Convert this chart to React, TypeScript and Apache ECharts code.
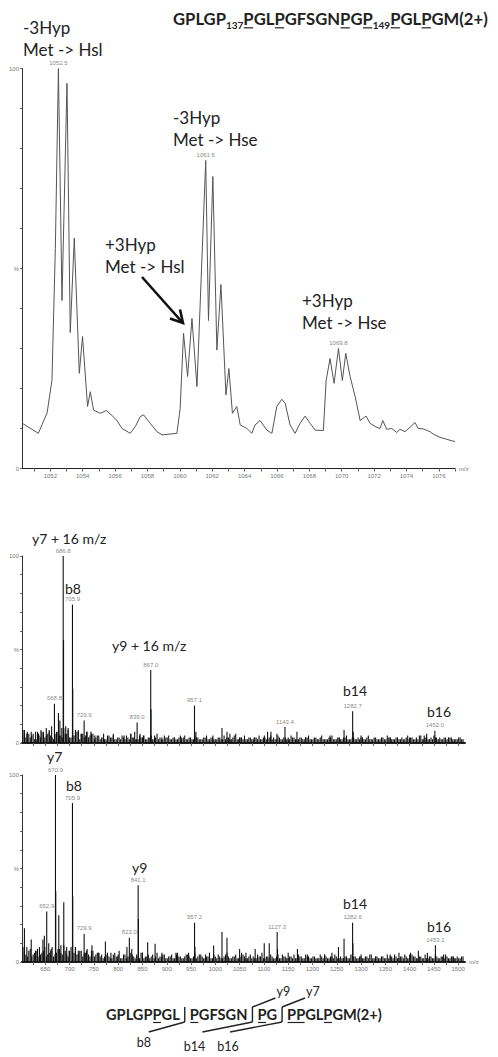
import React, { useEffect, useRef } from "react";
import * as echarts from "echarts";

type Seg = { t: string; sub?: boolean; u?: boolean };

// ---- Survey scan (profile data): [m/z, relative intensity %] ----
const surveyProfile: [number, number][] = [
  [1050.27, 11.3], [1051.26, 8.8], [1051.8, 13.9], [1052.1, 22], [1052.31, 55],
  [1052.5, 100], [1052.72, 42], [1053.03, 96.3], [1053.23, 34], [1053.48, 57.6],
  [1053.79, 23.8], [1053.99, 33], [1054.3, 15.5], [1054.47, 19.2], [1054.67, 14.6],
  [1055.09, 13.8], [1055.46, 14.5], [1055.87, 13], [1056.12, 12], [1056.43, 10],
  [1056.94, 8.8], [1057.25, 10.5], [1057.56, 13], [1057.76, 13.4], [1058.17, 11.3],
  [1058.59, 9.2], [1058.9, 8.4], [1059.82, 8.8], [1060.02, 15], [1060.23, 33.8],
  [1060.48, 23], [1060.75, 37.5], [1061.06, 20.5], [1061.6, 77], [1061.77, 37],
  [1062.04, 73], [1062.29, 29.6], [1062.54, 46], [1062.85, 18.4], [1063.03, 25],
  [1063.25, 13.8], [1063.52, 15.5], [1063.73, 10.9], [1064.14, 10], [1064.45, 8.8],
  [1064.65, 10.9], [1064.96, 12], [1065.38, 9.6], [1065.69, 8.8], [1065.99, 15.5],
  [1066.3, 17.3], [1066.51, 16.3], [1066.81, 10.9], [1067.12, 8.8], [1067.43, 11.3],
  [1067.74, 13.1], [1068.05, 11.3], [1068.36, 9.6], [1068.87, 9.5], [1069.04, 22],
  [1069.28, 27.5], [1069.53, 21.3], [1069.8, 30], [1070.04, 22], [1070.25, 28.8],
  [1070.52, 23], [1070.83, 18], [1071.14, 12], [1071.51, 13.1], [1071.75, 11.3],
  [1072.06, 10.5], [1072.37, 10], [1072.54, 12], [1072.78, 9.8], [1073.09, 10],
  [1073.4, 9], [1073.6, 9.8], [1073.91, 9.2], [1074.22, 10.3], [1074.53, 11.5],
  [1074.73, 10], [1075.04, 9.9], [1075.46, 9.2], [1075.66, 8.6], [1076.07, 7.8],
  [1076.49, 7.3], [1077.0, 6.7],
];
const surveyPeakLabels: [number, number][] = [[1052.5, 100], [1061.6, 77], [1069.8, 30]];
const surveyTickLabels = [1052, 1054, 1056, 1058, 1060, 1062, 1064, 1066, 1068, 1070, 1072, 1074, 1076];

// ---- MS/MS spectra (centroid sticks) ----
const msmsTickLabels = [650, 700, 750, 800, 850, 900, 950, 1000, 1050, 1100, 1150, 1200, 1250, 1300, 1350, 1400, 1450, 1500];
const yTickLabels = [0, 50, 100];

// +16 species
const oxLabeled: [number, number][] = [
  [668.8, 21], [686.8, 100], [705.9, 74], [729.9, 12], [839.0, 11],
  [867.0, 39], [957.1, 20], [1143.4, 8.5], [1282.7, 17], [1452.0, 6.5],
];
const oxPeaks: [number, number][] = [
  [607, 7], [612, 5], [621, 6], [630, 6], [636, 5], [641, 7], [646, 6], [652, 8], [658, 6], [663, 9],
  [677, 16], [680, 12], [684, 8], [687.5, 55], [692, 9], [697, 8], [706.5, 29], [712, 7], [718, 6],
  [724, 5], [735, 6], [744, 6], [752, 4], [770, 5], [790, 4], [812, 4], [826, 5], [834, 6], [845, 5],
  [852, 4], [867.6, 18], [875, 4], [890, 3], [930, 3], [960, 6], [995, 4], [1013.7, 8], [1024, 6],
  [1030, 5], [1050, 3], [1080, 3], [1101, 4], [1107.5, 6], [1114.5, 6], [1126.8, 5], [1150, 3],
  [1168, 6], [1186, 3], [1236, 4], [1255, 3], [1265, 7], [1270, 4], [1284, 6], [1300, 3], [1360, 3],
  [1400, 3], [1430, 4], [1435, 5], [1455, 3], [1480, 3],
];
// baseline grass, sampled every 6 m/z from 604 (A) and from 607 (B)
const oxNoiseA = [
  7, 3, 5, 4, 2, 6, 3, 5, 4, 7, 3, 5, 6, 4, 8, 5, 3, 6, 4, 7, 5, 3, 6, 4, 5, 3, 4,
  3, 2, 4, 3, 5, 2, 3, 4, 2, 3, 5, 3, 2, 4, 3, 2, 3, 4, 2, 5, 3, 2, 3, 4, 2, 3, 2, 4, 3, 2, 3, 2, 4, 3, 2, 3, 4, 2, 3, 2,
  3, 2, 4, 3, 2, 3, 5, 2, 3, 4, 2, 3, 2, 3, 4, 2, 3, 2, 4, 3, 2, 3, 2, 3, 2, 4, 3, 2, 3, 2, 3, 4, 2, 3, 2, 3, 2, 2, 3, 4,
  2, 3, 2, 3, 2, 2, 3, 2, 3, 4, 2, 3, 2, 2, 3, 2, 3, 2, 4, 3, 2, 3, 2, 3, 2, 4, 3, 2, 3, 4, 2, 3, 2, 3, 4, 2, 3, 2, 3, 2,
  3, 2, 2, 3, 2,
];
const oxNoiseB = [
  4, 6, 3, 5, 2, 4, 6, 3, 5, 4, 2, 6, 4, 3, 5, 7, 3, 4, 6, 2, 5, 4, 3, 5, 2, 4,
  2, 3, 2, 4, 3, 2, 3, 2, 3, 4, 2, 3, 2, 2, 3, 4, 2, 3, 2, 3, 2, 2, 4, 3, 2, 3, 2, 3, 2, 4, 2, 3, 2, 3, 2, 2, 3, 2, 3, 2,
  2, 3, 2, 2, 3, 2, 4, 2, 3, 2, 2, 3, 2, 3, 2, 2, 3, 2, 3, 2, 2, 4, 2, 3, 2, 2, 3, 2, 2, 3, 2, 3, 2, 2, 3, 2, 4, 2, 2, 3,
  2, 2, 3, 2, 3, 2, 2, 3, 2, 2, 3, 2, 4, 2, 3, 2, 2, 3, 2, 3, 2, 2, 3, 2, 2, 3, 2, 3, 2, 2, 4, 2, 3, 2, 2, 3, 2, 2, 3, 2,
  3, 2, 2, 3, 2,
];

// unmodified species
const nativeLabeled: [number, number][] = [
  [652.9, 27], [670.9, 100], [705.9, 85], [729.9, 15], [823.0, 13],
  [841.1, 41], [957.2, 21], [1127.3, 16], [1282.6, 21], [1453.1, 9],
];
const nativePeaks: [number, number][] = [
  [607, 18], [612, 8], [621, 12], [630, 6], [638, 8], [645, 12], [648, 14], [657, 10], [662, 7],
  [671.5, 38], [677.7, 25], [682, 9], [688, 32], [694, 8], [699, 6], [706.5, 35], [712, 8], [718, 6],
  [735, 6], [746, 9], [760, 5], [773.7, 11], [785, 5], [800, 4], [818, 8], [828, 7], [841.7, 23],
  [850, 5], [860.7, 10.6], [876, 9.7], [890, 5], [920, 4], [945, 5], [958, 8], [980, 4], [996.5, 8.8],
  [1013.7, 16], [1024, 13], [1050, 7], [1063, 5], [1082, 7], [1100.7, 10], [1111, 10], [1128, 7],
  [1150, 5], [1169, 7], [1190, 4], [1225, 4], [1240, 5], [1253.5, 8], [1265, 12.5], [1283.2, 10],
  [1300, 4], [1330, 3], [1360, 4], [1378, 5], [1400, 4], [1418, 6], [1436.6, 5], [1470, 4], [1490, 3],
];
const nativeNoiseA = [
  8, 4, 6, 3, 5, 7, 4, 6, 3, 5, 8, 4, 7, 5, 9, 4, 6, 5, 8, 4, 6, 5, 7, 3, 6, 4, 5,
  4, 3, 5, 2, 4, 3, 6, 2, 4, 3, 5, 3, 4, 2, 5, 3, 4, 3, 2, 5, 3, 4, 2, 3, 4, 2, 5, 3, 2, 4, 3, 2, 5, 3, 4, 2, 3, 5, 2, 3,
  4, 2, 3, 5, 2, 3, 4, 2, 5, 3, 2, 4, 3, 2, 3, 5, 2, 3, 4, 2, 3, 2, 4, 3, 2, 3, 4, 2, 3, 2, 4, 3, 2, 3, 2, 4, 2, 3, 2, 3,
  4, 2, 3, 2, 3, 2, 4, 3, 2, 3, 2, 3, 4, 2, 3, 2, 3, 2, 4, 3, 2, 3, 2, 3, 4, 2, 5, 3, 2, 3, 2, 4, 2, 3, 2, 3, 2, 3, 4, 2,
  3, 2, 3, 2, 3,
];
const nativeNoiseB = [
  5, 3, 7, 4, 6, 3, 5, 8, 4, 6, 3, 5, 7, 4, 6, 3, 8, 5, 4, 6, 3, 5, 4, 6, 3, 5,
  3, 2, 4, 3, 2, 5, 3, 2, 4, 2, 3, 4, 2, 3, 5, 2, 3, 2, 4, 3, 2, 3, 4, 2, 3, 2, 5, 3, 2, 3, 4, 2, 3, 2, 4, 3, 2, 3, 2, 4,
  2, 3, 2, 4, 3, 2, 3, 2, 3, 4, 2, 3, 2, 2, 4, 3, 2, 3, 2, 3, 2, 4, 2, 3, 2, 3, 2, 2, 4, 3, 2, 3, 2, 3, 2, 2, 3, 4, 2, 3,
  2, 3, 2, 2, 3, 2, 4, 3, 2, 3, 2, 3, 2, 4, 2, 3, 2, 3, 2, 2, 3, 4, 2, 3, 2, 3, 2, 4, 3, 2, 3, 2, 2, 3, 2, 4, 2, 3, 2, 3,
  2, 3, 2, 2, 3,
];
const noiseStartA = 604;
const noiseStartB = 607;
const noiseStep = 6;

// ---- Text ----
const titleSegs: Seg[] = [
  { t: "GPLGP" }, { t: "137", sub: true }, { t: "P", u: true }, { t: "GL" }, { t: "P", u: true },
  { t: "GFSGN" }, { t: "P", u: true }, { t: "G" }, { t: "P", u: true }, { t: "149", sub: true },
  { t: "P", u: true }, { t: "GL" }, { t: "P", u: true }, { t: "GM(2+)" },
];
const seqGroups: Seg[][] = [
  [{ t: "GPLGP" }, { t: "P", u: true }, { t: "GL" }],
  [{ t: "P", u: true }, { t: "GFSGN" }],
  [{ t: "P", u: true }, { t: "G" }],
  [{ t: "PP", u: true }, { t: "GL" }, { t: "P", u: true }, { t: "GM(2+)" }],
];
// dx: horizontal run of the lower leader line, lx: label offset from its end
const seqCuts = [
  { above: "", below: "b8", dx: -36, lx: -5, ly: 22 },
  { above: "y9", below: "b14", dx: -50, lx: -8, ly: 26 },
  { above: "y7", below: "b16", dx: -52, lx: -2, ly: 26 },
];
// [text, left x, middle y, font size]
const annotations: [string, number, number, number][] = [
  ["-3Hyp", 23, 27, 17], ["Met -> Hsl", 23, 49, 17],
  ["-3Hyp", 173, 117, 17], ["Met -> Hse", 173, 139, 17],
  ["+3Hyp", 105, 244, 17], ["Met -> Hsl", 105, 266, 17],
  ["+3Hyp", 302, 300, 17], ["Met -> Hse", 302, 322, 17],
  ["y7 + 16 m/z", 32, 538, 14], ["b8", 65, 588, 14], ["y9 + 16 m/z", 112, 645, 14],
  ["b14", 343, 690, 14], ["b16", 427, 711, 14],
  ["y7", 47, 756, 14], ["b8", 66, 785, 14], ["y9", 132, 867, 14],
  ["b14", 343, 903, 14], ["b16", 427, 926, 14],
];

const FONT = "Lato";
const SMALL_FONT = "Liberation Sans";
const INK = "#222";

let measureCtx: CanvasRenderingContext2D | null = null;
function textWidth(t: string, size: number, weight: string) {
  if (!measureCtx) measureCtx = document.createElement("canvas").getContext("2d");
  if (!measureCtx) return t.length * size * 0.55;
  measureCtx.font = `${weight} ${size}px ${FONT}`;
  return measureCtx.measureText(t).width;
}
function segsWidth(segs: Seg[], size: number, weight: string) {
  return segs.reduce((s, g) => s + textWidth(g.t, g.sub ? size * 0.6 : size, weight), 0);
}
function runElements(segs: Seg[], x0: number, baseline: number, size: number, weight: string) {
  const els: any[] = [];
  let x = x0;
  for (const s of segs) {
    const sz = s.sub ? size * 0.6 : size;
    const w = textWidth(s.t, sz, weight);
    const base = s.sub ? baseline + size * 0.22 : baseline;
    els.push({
      type: "text", x, y: base - sz * 0.35, z: 100,
      style: { text: s.t, fontSize: sz, fontFamily: FONT, fontWeight: weight, fill: INK, align: "left", verticalAlign: "middle" },
    });
    if (s.u) {
      const uy = baseline + size * 0.17;
      els.push({ type: "line", z: 100, shape: { x1: x + 0.5, y1: uy, x2: x + w - 0.5, y2: uy }, style: { stroke: INK, lineWidth: 1.2 } });
    }
    x += w;
  }
  return { els, end: x };
}

function buildGraphics() {
  const g: any[] = [];
  // title, fitted between x = 173 and 488
  const tw = segsWidth(titleSegs, 17, "bold");
  const tSize = (17 * 315) / tw;
  g.push(...runElements(titleSegs, 173, 25, tSize, "bold").els);

  for (const [t, x, y, s] of annotations) {
    g.push({ type: "text", x, y, z: 100, style: { text: t, fontSize: s, fontFamily: FONT, fill: INK, align: "left", verticalAlign: "middle" } });
  }

  // arrow pointing at the +3Hyp / Hsl cluster
  g.push({ type: "line", z: 100, shape: { x1: 142, y1: 277, x2: 182, y2: 322 }, style: { stroke: "#111", lineWidth: 2.6 } });
  g.push({ type: "polyline", z: 100, shape: { points: [[170, 318.5], [183, 323], [180, 309.5]] }, style: { stroke: "#111", lineWidth: 2.6, fill: null } });

  // peptide sequence with cleavage marks
  const gap = 10;
  let allW = 0;
  for (const grp of seqGroups) allW += segsWidth(grp, 16, "bold");
  const sSize = (16 * (276 - gap * (seqGroups.length - 1))) / allW;
  const baseline = 1020;
  let x = 106;
  seqGroups.forEach((grp, i) => {
    const r = runElements(grp, x, baseline, sSize, "bold");
    g.push(...r.els);
    x = r.end;
    if (i < seqCuts.length) {
      const cut = seqCuts[i];
      const bx = x + gap / 2;
      const top = baseline - 13;
      const bot = baseline + 2;
      g.push({ type: "line", z: 100, shape: { x1: bx, y1: top, x2: bx, y2: bot }, style: { stroke: INK, lineWidth: 1.4 } });
      g.push({ type: "line", z: 100, shape: { x1: bx, y1: bot, x2: bx + cut.dx, y2: bot + 10 }, style: { stroke: INK, lineWidth: 1.4 } });
      g.push({ type: "text", x: bx + cut.dx + cut.lx, y: baseline + cut.ly, z: 100, style: { text: cut.below, fontSize: 12.5, fontFamily: FONT, fill: INK, align: "center", verticalAlign: "middle" } });
      if (cut.above) {
        g.push({ type: "line", z: 100, shape: { x1: bx, y1: top, x2: bx + 23, y2: top - 9 }, style: { stroke: INK, lineWidth: 1.4 } });
        g.push({ type: "text", x: bx + 24, y: baseline - 29, z: 100, style: { text: cut.above, fontSize: 12.5, fontFamily: FONT, fill: INK, align: "left", verticalAlign: "middle" } });
      }
      x += gap;
    }
  });
  return g;
}

function stickData(labeled: [number, number][], peaks: [number, number][], noiseA: number[], noiseB: number[]) {
  const a: [number, number][] = noiseA.map((v, i) => [noiseStartA + i * noiseStep, v]);
  const b: [number, number][] = noiseB.map((v, i) => [noiseStartB + i * noiseStep, v]);
  return a.concat(b, peaks, labeled);
}

const stickRender = (_p: any, api: any) => {
  const x = api.value(0);
  const y = api.value(1);
  const p0 = api.coord([x, 0]);
  const p1 = api.coord([x, y]);
  return { type: "line", shape: { x1: p0[0], y1: p0[1], x2: p1[0], y2: p1[1] }, style: { stroke: "#111", lineWidth: 1.1 } };
};

const peakLabel = {
  show: true, position: "top", distance: 2, fontSize: 6, color: "#666", fontFamily: SMALL_FONT,
  formatter: (p: any) => Number(p.value[0]).toFixed(1),
};

export default function App() {
  const ref = useRef<HTMLDivElement>(null);
  useEffect(() => {
    if (!ref.current) return;
    const chart = echarts.init(ref.current, undefined, { renderer: "svg" });

    const surveyMinor: number[] = [];
    for (let v = 1051; v <= 1077; v++) surveyMinor.push(v);
    const msmsMinor: number[] = [];
    for (let v = 625; v <= 1500; v += 25) msmsMinor.push(v);
    const yMinor: number[] = [];
    for (let v = 0; v <= 100; v += 10) yMinor.push(v);

    const tickLabelStyle = { fontSize: 6, color: "#777", fontFamily: SMALL_FONT };

    const xAxisFor = (grid: number, min: number, max: number, minor: number[], labels: number[] | null, lineWidth: number) => ({
      type: "value", gridIndex: grid, min, max,
      axisLine: { show: true, onZero: false, lineStyle: { color: "#222", width: lineWidth } },
      splitLine: { show: false },
      axisTick: { show: true, customValues: minor, length: 3, lineStyle: { color: "#666" } },
      axisLabel: labels
        ? { show: true, customValues: labels, margin: 4, ...tickLabelStyle, formatter: (v: number) => String(v) }
        : { show: false },
      name: labels ? "m/z" : "",
      nameLocation: "end", nameGap: 4,
      nameTextStyle: { ...tickLabelStyle, verticalAlign: "middle" },
    });
    const yAxisFor = (grid: number) => ({
      type: "value", gridIndex: grid, min: 0, max: 100,
      axisLine: { show: true, lineStyle: { color: "#333", width: 1 } },
      splitLine: { show: false },
      axisTick: { show: true, customValues: yMinor, length: 2, lineStyle: { color: "#666" } },
      axisLabel: {
        show: true, customValues: yTickLabels, margin: 3, ...tickLabelStyle,
        formatter: (v: number) => (v === 50 ? "%" : String(v)),
      },
    });
    const labelSeries = (idx: number, data: [number, number][]) => ({
      type: "scatter", xAxisIndex: idx, yAxisIndex: idx, data, symbolSize: 1,
      itemStyle: { color: "rgba(0,0,0,0)" }, label: peakLabel, silent: true, z: 5,
    });

    chart.setOption({
      animation: false,
      backgroundColor: "#fff",
      grid: [
        { left: 22, top: 68.5, width: 433, height: 400, containLabel: false, outerBoundsMode: "none" },
        { left: 22, top: 556, width: 443, height: 187, containLabel: false, outerBoundsMode: "none" },
        { left: 22, top: 775, width: 443, height: 187, containLabel: false, outerBoundsMode: "none" },
      ],
      xAxis: [
        xAxisFor(0, 1050.25, 1077, surveyMinor, surveyTickLabels, 1),
        xAxisFor(1, 602, 1514, msmsMinor, null, 2),
        xAxisFor(2, 602, 1514, msmsMinor, msmsTickLabels, 2),
      ],
      yAxis: [yAxisFor(0), yAxisFor(1), yAxisFor(2)],
      series: [
        {
          type: "line", xAxisIndex: 0, yAxisIndex: 0, data: surveyProfile, showSymbol: false,
          symbol: "none", lineStyle: { color: "#555", width: 1 }, silent: true,
        },
        labelSeries(0, surveyPeakLabels),
        {
          type: "custom", xAxisIndex: 1, yAxisIndex: 1, data: stickData(oxLabeled, oxPeaks, oxNoiseA, oxNoiseB),
          encode: { x: 0, y: 1 }, renderItem: stickRender, silent: true,
        },
        labelSeries(1, oxLabeled),
        {
          type: "custom", xAxisIndex: 2, yAxisIndex: 2, data: stickData(nativeLabeled, nativePeaks, nativeNoiseA, nativeNoiseB),
          encode: { x: 0, y: 1 }, renderItem: stickRender, silent: true,
        },
        labelSeries(2, nativeLabeled),
      ],
      graphic: buildGraphics(),
    });
    return () => chart.dispose();
  }, []);

  return <div ref={ref} style={{ position: "absolute", left: 0, top: 0, width: 498, height: 1057, background: "#fff" }} />;
}
